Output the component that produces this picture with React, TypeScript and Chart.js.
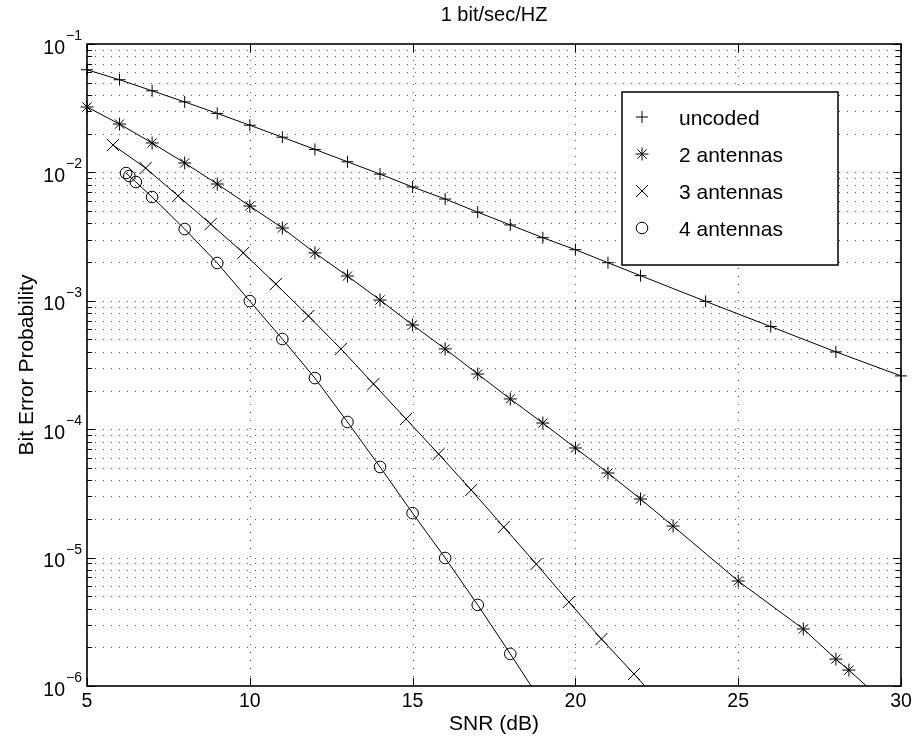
import React, { useEffect, useRef } from 'react';
import { Chart, registerables } from 'chart.js';

Chart.register(...registerables);

// ---- text ----
const titleText = '1 bit/sec/HZ';
const xLabel = 'SNR (dB)';
const yLabel = 'Bit Error Probability';
const seriesNames = ['uncoded', '2 antennas', '3 antennas', '4 antennas'];

// ---- axes ----
const xMin = 5;
const xMax = 30;
const yMin = 1e-6;
const yMax = 1e-1;
const xTicks = [5, 10, 15, 20, 25, 30];
const yDecades = [-6, -5, -4, -3, -2, -1];

// ---- data ----
const snrUncoded = [5, 6, 7, 8, 9, 10, 11, 12, 13, 14, 15, 16, 17, 18, 19, 20, 21, 22, 24, 26, 28, 30];
const berUncoded = [0.063, 0.0527, 0.0432, 0.0354, 0.0288, 0.0233, 0.0188, 0.0151, 0.0121, 0.0097, 0.0077, 0.0062, 0.0049, 0.0039, 0.0031, 0.0025, 0.00198, 0.00157, 0.00099, 0.00063, 0.0004, 0.00026];

const snr2 = [5, 6, 7, 8, 9, 10, 11, 12, 13, 14, 15, 16, 17, 18, 19, 20, 21, 22, 23, 25, 27, 28, 28.4, 29.2];
const ber2 = [0.0323, 0.0238, 0.01695, 0.01184, 0.00812, 0.00547, 0.00369, 0.00236, 0.00156, 0.001014, 0.000648, 0.000422, 0.000269, 0.000172, 0.0001117, 7.14e-5, 4.56e-5, 2.86e-5, 1.76e-5, 6.57e-6, 2.78e-6, 1.62e-6, 1.33e-6, 8.7e-7];

const snr3 = [5.8, 6.8, 7.8, 8.8, 9.8, 10.8, 11.8, 12.8, 13.8, 14.8, 15.8, 16.8, 17.8, 18.8, 19.8, 20.8, 21.8, 22.3];
const ber3 = [0.01633, 0.01081, 0.00655, 0.00396, 0.00236, 0.00135, 0.000762, 0.000422, 0.000225, 0.00012, 6.41e-5, 3.36e-5, 1.73e-5, 8.9e-6, 4.51e-6, 2.32e-6, 1.24e-6, 9.0e-7];

const snr4 = [6.2, 6.3, 6.5, 7, 8, 9, 10, 11, 12, 13, 14, 15, 16, 17, 18, 18.7];
const ber4 = [0.00989, 0.00937, 0.00841, 0.00643, 0.00362, 0.00197, 0.000995, 0.000504, 0.00025, 0.0001138, 5.08e-5, 2.22e-5, 9.93e-6, 4.28e-6, 1.78e-6, 9.5e-7];

const FONT = '"Liberation Sans", Arial, Helvetica, sans-serif';
const markerStyles = ['cross', 'star', 'crossRot', 'circle'];
const markerRadii = [6, 6.5, 8.5, 5.8];

function drawMarker(ctx: CanvasRenderingContext2D, style: string, x: number, y: number, r: number) {
  ctx.beginPath();
  if (style === 'cross' || style === 'star') {
    ctx.moveTo(x - r, y); ctx.lineTo(x + r, y);
    ctx.moveTo(x, y - r); ctx.lineTo(x, y + r);
  }
  if (style === 'crossRot' || style === 'star') {
    const o = Math.cos(Math.PI / 4) * r;
    ctx.moveTo(x - o, y - o); ctx.lineTo(x + o, y + o);
    ctx.moveTo(x - o, y + o); ctx.lineTo(x + o, y - o);
  }
  if (style === 'circle') {
    ctx.arc(x, y, r, 0, Math.PI * 2);
  }
  ctx.stroke();
}

function forEachYTick(cb: (v: number, major: boolean) => void) {
  for (const d of yDecades) {
    for (let m = 1; m <= 9; m++) {
      const v = m * Math.pow(10, d);
      if (v > yMax * 1.0001) break;
      cb(v, m === 1);
    }
  }
}

const matlabPlugin = {
  id: 'matlabStyle',
  beforeDatasetsDraw(chart: any) {
    const { ctx, chartArea: a } = chart;
    const xs = chart.scales.x;
    const ys = chart.scales.y;
    ctx.save();
    ctx.strokeStyle = '#555';
    ctx.lineWidth = 1;
    ctx.setLineDash([1, 7]);
    ctx.beginPath();
    for (const t of xTicks) {
      if (t === xMin || t === xMax) continue;
      const px = Math.round(xs.getPixelForValue(t)) + 0.5;
      ctx.moveTo(px, a.top);
      ctx.lineTo(px, a.bottom);
    }
    forEachYTick((v) => {
      if (v <= yMin * 1.0001 || v >= yMax * 0.9999) return;
      const py = Math.round(ys.getPixelForValue(v)) + 0.5;
      ctx.moveTo(a.left, py);
      ctx.lineTo(a.right, py);
    });
    ctx.stroke();
    ctx.restore();
  },
  afterDraw(chart: any) {
    const { ctx, chartArea: a } = chart;
    const xs = chart.scales.x;
    const ys = chart.scales.y;
    ctx.save();
    ctx.setLineDash([]);
    ctx.strokeStyle = '#000';
    ctx.fillStyle = '#000';
    ctx.lineWidth = 1;

    // tick marks (inward)
    ctx.beginPath();
    for (const t of xTicks) {
      const px = Math.round(xs.getPixelForValue(t)) + 0.5;
      ctx.moveTo(px, a.bottom); ctx.lineTo(px, a.bottom - 8);
      ctx.moveTo(px, a.top); ctx.lineTo(px, a.top + 8);
    }
    forEachYTick((v, major) => {
      const py = Math.round(ys.getPixelForValue(v)) + 0.5;
      const len = major ? 8 : 5;
      ctx.moveTo(a.left, py); ctx.lineTo(a.left + len, py);
      ctx.moveTo(a.right, py); ctx.lineTo(a.right - len, py);
    });
    ctx.stroke();

    // box
    ctx.lineWidth = 1.6;
    ctx.strokeRect(a.left, a.top, a.right - a.left, a.bottom - a.top);

    // x tick labels
    ctx.font = `19.5px ${FONT}`;
    ctx.textAlign = 'center';
    ctx.textBaseline = 'alphabetic';
    for (const t of xTicks) {
      ctx.fillText(String(t), xs.getPixelForValue(t), a.bottom + 21);
    }

    // y tick labels 10^k
    for (const d of yDecades) {
      const py = ys.getPixelForValue(Math.pow(10, d));
      const exp = '\u2212' + String(Math.abs(d));
      ctx.font = `14px ${FONT}`;
      ctx.textAlign = 'right';
      const expW = ctx.measureText(exp).width;
      ctx.fillText(exp, a.left - 5, py - 4);
      ctx.font = `19.5px ${FONT}`;
      ctx.fillText('10', a.left - 5 - expW - 1, py + 9.5);
    }

    // title and axis labels
    ctx.font = `20px ${FONT}`;
    ctx.textAlign = 'center';
    ctx.fillText(titleText, (a.left + a.right) / 2, 21);
    ctx.font = `21px ${FONT}`;
    ctx.fillText(xLabel, (a.left + a.right) / 2, a.bottom + 44);
    ctx.save();
    ctx.translate(33, (a.top + a.bottom) / 2);
    ctx.rotate(-Math.PI / 2);
    ctx.fillText(yLabel, 0, 0);
    ctx.restore();

    // legend
    const lx = a.right - 279;
    const lr = a.right - 63;
    const lt = a.top + 48;
    const lb = a.top + 221;
    ctx.fillStyle = '#fff';
    ctx.fillRect(lx, lt, lr - lx, lb - lt);
    ctx.lineWidth = 1.5;
    ctx.strokeRect(lx, lt, lr - lx, lb - lt);
    ctx.fillStyle = '#000';
    ctx.lineWidth = 1;
    ctx.font = `21px ${FONT}`;
    ctx.textAlign = 'left';
    seriesNames.forEach((name, i) => {
      const cy = lt + 25 + i * 37;
      drawMarker(ctx, markerStyles[i], lx + 20, cy, markerRadii[i]);
      ctx.fillText(name, lx + 57, cy + 7.5);
    });
    ctx.restore();
  },
};

function series(xs: number[], ys: number[]) {
  return xs.map((x, i) => ({ x, y: ys[i] }));
}

export default function App() {
  const canvasRef = useRef<HTMLCanvasElement | null>(null);

  useEffect(() => {
    if (!canvasRef.current) return;
    const sets = [
      series(snrUncoded, berUncoded),
      series(snr2, ber2),
      series(snr3, ber3),
      series(snr4, ber4),
    ];
    const chart = new Chart(canvasRef.current, {
      type: 'line',
      data: {
        datasets: sets.map((data, i) => ({
          label: seriesNames[i],
          data,
          borderColor: '#000',
          backgroundColor: 'rgba(0,0,0,0)',
          borderWidth: 1,
          tension: 0,
          pointStyle: markerStyles[i] as any,
          pointRadius: (c: any) => (c.raw && c.raw.y >= yMin * 0.999 ? markerRadii[i] : 0),
          pointBorderWidth: 1,
          pointBorderColor: '#000',
          pointBackgroundColor: 'rgba(0,0,0,0)',
          clip: i === 0 ? (false as any) : ({ left: 12, right: 12, top: 12, bottom: 0 } as any),
        })),
      },
      options: {
        animation: false,
        responsive: false,
        events: [],
        layout: { padding: { left: 87, right: 17, top: 44, bottom: 60 } },
        plugins: {
          legend: { display: false },
          title: { display: false },
          tooltip: { enabled: false },
        },
        scales: {
          x: { type: 'linear', min: xMin, max: xMax, display: false },
          y: { type: 'logarithmic', min: yMin, max: yMax, display: false },
        },
      },
      plugins: [matlabPlugin],
    });
    return () => chart.destroy();
  }, []);

  return (
    <div style={{ position: 'fixed', left: 0, top: 0, width: 918, height: 746, background: '#fff' }}>
      <canvas ref={canvasRef} width={918} height={746} />
    </div>
  );
}
